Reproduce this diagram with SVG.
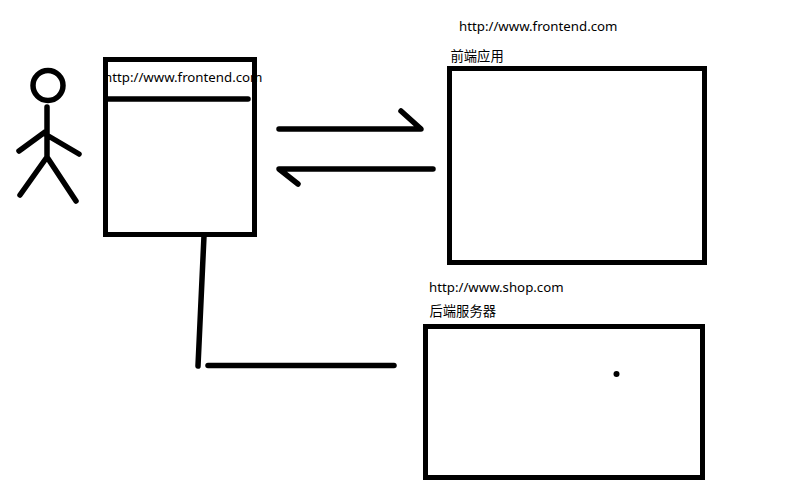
<svg xmlns="http://www.w3.org/2000/svg" width="809" height="503" viewBox="0 0 809 503">
<style>
.s{fill:none;stroke:#000;stroke-width:5.500;stroke-linecap:round;stroke-linejoin:round}
.b{fill:none;stroke:#000;stroke-width:5;stroke-linejoin:miter}
.t{font-family:"Noto Sans","Noto Sans CJK SC",sans-serif;font-size:13.250px;fill:#000}
.c{font-family:"Noto Sans CJK SC",sans-serif;font-size:13.300px;fill:#000}
</style>
<rect width="809" height="503" fill="#fff"/>
<g id="user">
<circle cx="48" cy="85.500" r="15" class="s"/>
<path class="s" d="M47 107V157M47 157L20 195M47 157L76 201M45 132L19 151M45 134L79 154"/>
</g>
<g id="browser">
<rect x="105.500" y="59.500" width="149" height="175" class="b"/>
<path class="s" d="M107 99H248"/>
<text class="t" x="104" y="82">http://www.frontend.com</text>
</g>
<g id="frontend">
<rect x="449.500" y="68.500" width="255" height="194" class="b"/>
<text class="t" x="459" y="31">http://www.frontend.com</text>
<text class="c" x="450.500" y="61">前端应用</text>
</g>
<g id="backend">
<rect x="425.500" y="326.500" width="277" height="151" class="b"/>
<circle cx="616.500" cy="374" r="3" fill="#000"/>
<text class="t" x="429" y="292">http://www.shop.com</text>
<text class="c" x="429.500" y="316">后端服务器</text>
</g>
<g id="connectors">
<path class="s" d="M279 129H421L401 111"/>
<path class="s" d="M433 169H279L298 184"/>
<path class="s" d="M204 236L198 366"/>
<path class="s" d="M208 365.500H394"/>
</g>
</svg>
